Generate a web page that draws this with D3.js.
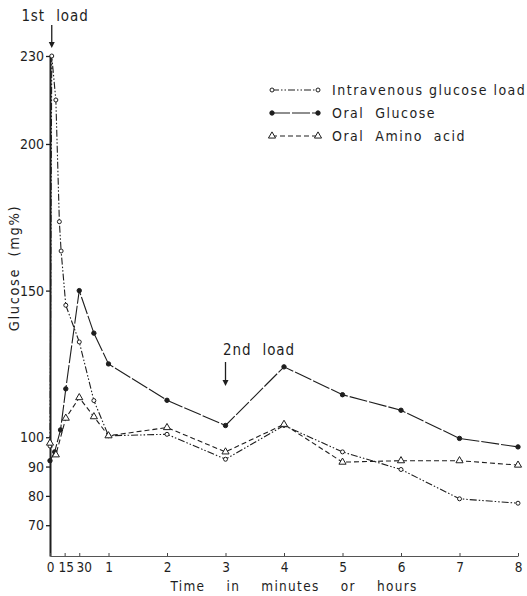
<!DOCTYPE html>
<html>
<head>
<meta charset="utf-8">
<script src="https://cdn.jsdelivr.net/npm/d3@7"></script>
<style>
  body { margin: 0; background: #fff; }
  svg { display: block; }
</style>
</head>
<body>
<div class="main-container"></div>
<script>
// time in hours, glucose in mg%
const xTicks = [0, 0.25, 0.5, 1, 2, 3, 4, 5, 6, 7, 8];
const xTickLabels = ["0", "15", "30", "1", "2", "3", "4", "5", "6", "7", "8"];
const yTicks = [230, 200, 150, 100, 90, 80, 70];

const ivTime    = [0, 0.03, 0.1, 0.16, 0.19, 0.27, 0.5, 0.75, 1, 2, 3, 4, 5, 6, 7, 8];
const ivGlucose = [97, 230, 215, 173.5, 163.5, 145, 132.5, 112.5, 100.5, 101, 92.5, 104, 95, 89, 79, 77.5];

const ogTime    = [0, 0.08, 0.18, 0.27, 0.5, 0.75, 1, 2, 3, 4, 5, 6, 7, 8];
const ogGlucose = [92, 95, 102.5, 116.5, 150, 135.5, 125, 112.6, 104, 124, 114.5, 109.2, 99.6, 96.7];

const aaTime    = [0, 0.1, 0.27, 0.5, 0.75, 1, 2, 3, 4, 5, 6, 7, 8];
const aaGlucose = [98, 94, 106.5, 113.5, 107, 100.5, 103.3, 95, 104.4, 91.5, 92, 92, 90.5];

const seriesNames = ["Intravenous glucose load", "Oral  Glucose", "Oral  Amino  acid"];

const W = 527, H = 596;
const INK = "#1e1e1e";
const FONT = "'DejaVu Sans Condensed', 'DejaVu Sans', sans-serif";

const svg = d3.select(".main-container").append("svg")
  .attr("width", W).attr("height", H)
  .style("font-family", FONT);

const x = d3.scaleLinear().domain([0, 8]).range([50, 518]);
const y = d3.scaleLinear().domain([59.5, 230]).range([556, 56]);

// axes
const yAxis = svg.append("g").attr("transform", "translate(50,0)")
  .call(d3.axisLeft(y).tickValues(yTicks).tickSize(4).tickPadding(2).tickSizeOuter(0));
yAxis.select(".domain").attr("stroke", INK).attr("stroke-width", 2);
yAxis.selectAll(".tick line").attr("stroke", INK).attr("stroke-width", 1.3);
yAxis.selectAll("text").attr("fill", INK).style("font-size", "14px").style("font-family", FONT);

// the first minute labels are crowded, nudge them apart like the original
const labelNudge = { "15": 1, "30": 4.5 };
const xAxis = svg.append("g").attr("transform", "translate(0,556)")
  .call(d3.axisBottom(x).tickValues(xTicks).tickFormat((d, i) => xTickLabels[i])
    .tickSize(-3).tickPadding(6).tickSizeOuter(0));
xAxis.select(".domain").attr("stroke", "#555").attr("stroke-width", 1.2);
xAxis.selectAll(".tick line").attr("stroke", "#444");
xAxis.selectAll("text").attr("fill", INK).style("font-size", "13.5px").style("font-family", FONT)
  .attr("dx", function () { return labelNudge[this.textContent] || 0; });

// axis titles
svg.append("text")
  .attr("x", 294).attr("y", 591).attr("text-anchor", "middle")
  .attr("fill", INK).style("font-size", "13.5px").style("letter-spacing", "1.3px")
  .style("word-spacing", "16px").style("white-space", "pre")
  .text("Time in minutes or hours");

svg.append("text")
  .attr("transform", "translate(19,268) rotate(-90)")
  .attr("text-anchor", "middle").attr("fill", INK)
  .style("font-size", "14.5px").style("letter-spacing", "1.6px").style("white-space", "pre")
  .text("Glucose  (mg%)");

// series
const series = [
  { t: ivTime, v: ivGlucose, dash: "7,2,1.5,2,1.5,2", marker: "open" },
  { t: ogTime, v: ogGlucose, dash: "18,2", marker: "filled" },
  { t: aaTime, v: aaGlucose, dash: "5,3", marker: "tri" }
];

const line = d3.line().x(d => x(d[0])).y(d => y(d[1]));
const tri = d3.symbol().type(d3.symbolTriangle).size(22);

function drawMarker(g, type, px, py) {
  if (type === "tri") {
    g.append("path").attr("d", tri).attr("transform", `translate(${px},${py})`)
      .attr("fill", "#fff").attr("stroke", INK).attr("stroke-width", 1);
  } else {
    g.append("circle").attr("cx", px).attr("cy", py).attr("r", type === "filled" ? 2.2 : 2)
      .attr("fill", type === "filled" ? INK : "#fff").attr("stroke", INK).attr("stroke-width", 1);
  }
}

series.forEach(s => {
  const pts = s.t.map((t, i) => [t, s.v[i]]);
  svg.append("path").datum(pts).attr("d", line)
    .attr("fill", "none").attr("stroke", INK).attr("stroke-width", 1.1)
    .attr("stroke-dasharray", s.dash);
  const g = svg.append("g");
  pts.forEach(p => drawMarker(g, s.marker, x(p[0]), y(p[1])));
});

// legend
const legend = svg.append("g");
series.forEach((s, i) => {
  const ly = 90 + i * 23;
  legend.append("line").attr("x1", 272).attr("x2", 318).attr("y1", ly).attr("y2", ly)
    .attr("stroke", INK).attr("stroke-width", 1.1).attr("stroke-dasharray", s.dash);
  drawMarker(legend, s.marker, 272, ly);
  drawMarker(legend, s.marker, 318, ly);
  legend.append("text").attr("x", 332).attr("y", ly + 5)
    .attr("fill", INK).style("font-size", "14px").style("letter-spacing", "1.5px")
    .style("white-space", "pre").text(seriesNames[i]);
});

// load annotations
const arrow = (ax, y0, y1) => {
  svg.append("line").attr("x1", ax).attr("x2", ax).attr("y1", y0).attr("y2", y1 - 4)
    .attr("stroke", INK).attr("stroke-width", 1.3);
  svg.append("path").attr("d", `M${ax - 3},${y1 - 6} L${ax},${y1} L${ax + 3},${y1 - 6} Z`)
    .attr("fill", INK);
};
const note = (label, nx, ny) => svg.append("text").attr("x", nx).attr("y", ny)
  .attr("text-anchor", "middle").attr("fill", INK)
  .style("font-size", "15px").style("letter-spacing", "0.9px")
  .style("word-spacing", "6px").style("white-space", "pre").text(label);

note("1st load", 55, 21);
arrow(x(0.03), 25, 48);
note("2nd load", 259, 355);
arrow(x(3), 362, 386);
</script>
</body>
</html>
